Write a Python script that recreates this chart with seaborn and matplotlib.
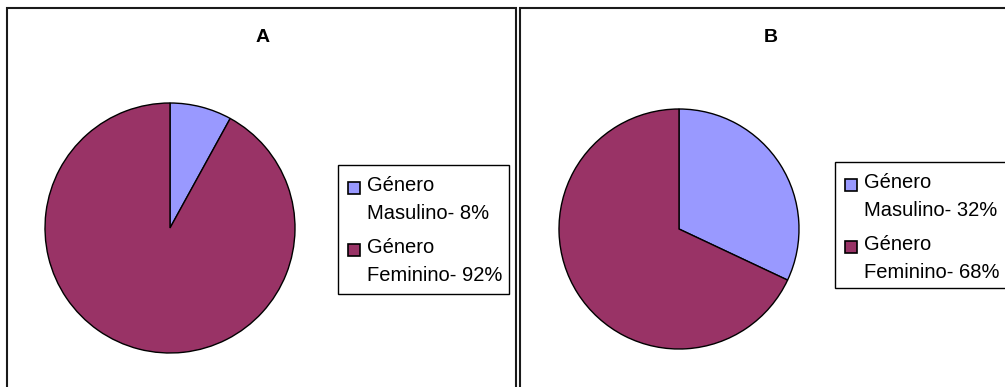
import matplotlib
matplotlib.use("Agg")
import matplotlib.pyplot as plt
from matplotlib.patches import Rectangle, Patch
from matplotlib.legend_handler import HandlerPatch
import seaborn as sns

sns.set_theme(style="white")
plt.rcParams['font.family'] = ['Liberation Sans', 'DejaVu Sans']
plt.rcParams['text.color'] = 'black'

titles = ["A", "B"]
labels = ["Género\nMasulino", "Género\nFeminino"]
values_a = [8, 92]
values_b = [32, 68]
colors = ["#9999FF", "#993366"]

W, H = 1005, 387
fig = plt.figure(figsize=(W / 100, H / 100), dpi=100)
fig.patch.set_facecolor("white")

def fc(x0, y0, x1, y1):
    return [x0 / W, 1 - y1 / H, (x1 - x0) / W, (y1 - y0) / H]

# panel borders
for (x0, x1) in [(7, 516), (520, 1010)]:
    fig.add_artist(Rectangle((x0 / W, -0.05), (x1 - x0) / W, 1.05 - 8 / H,
                             transform=fig.transFigure, fill=False,
                             edgecolor="#1a1a1a", linewidth=1.5))

SQ = 8.5  # square side in points


def top_square(legend, orig_handle, xdescent, ydescent, width, height, fontsize):
    # square aligned with the first text line
    return Rectangle((-xdescent + width - SQ, -ydescent + 9.0), SQ, SQ)


handler = HandlerPatch(patch_func=top_square)

specs = [
    (values_a, fc(45, 103, 295, 353), (338, 170), 263, 3),
    (values_b, fc(559, 109, 799, 349), (835, 167), 771, 0),
]

legends = []
for i, (vals, rect, legpos, tx, bpad) in enumerate(specs):
    ax = fig.add_axes(rect)
    ax.pie(vals, colors=colors, startangle=90, counterclock=False,
           wedgeprops=dict(edgecolor="black", linewidth=1.0))
    ax.set_xlim(-1.0, 1.0)
    ax.set_ylim(-1.0, 1.0)
    ax.axis("off")
    fig.text(tx / W, 1 - 37 / H, titles[i], ha="center", va="center",
             fontsize=14, fontweight="bold", color="black")
    handles = [Patch(facecolor=c, edgecolor="black", linewidth=1.2) for c in colors]
    texts = [f"{l}- {v}%" for l, v in zip(labels, vals)]
    leg = fig.legend(handles, texts, loc="upper left",
                     bbox_to_anchor=(legpos[0] / W, 1 - legpos[1] / H),
                     bbox_transform=fig.transFigure, borderaxespad=0,
                     fontsize=14.5, frameon=False,
                     handler_map={Patch: handler},
                     handlelength=0.8, handleheight=0.6, handletextpad=0.35,
                     labelspacing=0.75, borderpad=0.3)
    for t in leg.get_texts():
        t.set_linespacing(1.6)
        t.set_color("black")
    legends.append((leg, bpad))

fig.canvas.draw()
renderer = fig.canvas.get_renderer()
inv = fig.transFigure.inverted()
for leg, bpad in legends:
    bb = leg.get_window_extent(renderer)
    x0, y0 = inv.transform((bb.x0, bb.y0 - bpad))
    x1, y1 = inv.transform((bb.x1, bb.y1 + 5))
    fig.add_artist(Rectangle((x0, y0), x1 - x0, y1 - y0, transform=fig.transFigure,
                             fill=False, edgecolor="black", linewidth=1.0))

fig.savefig("out.png", dpi=100, facecolor="white")
